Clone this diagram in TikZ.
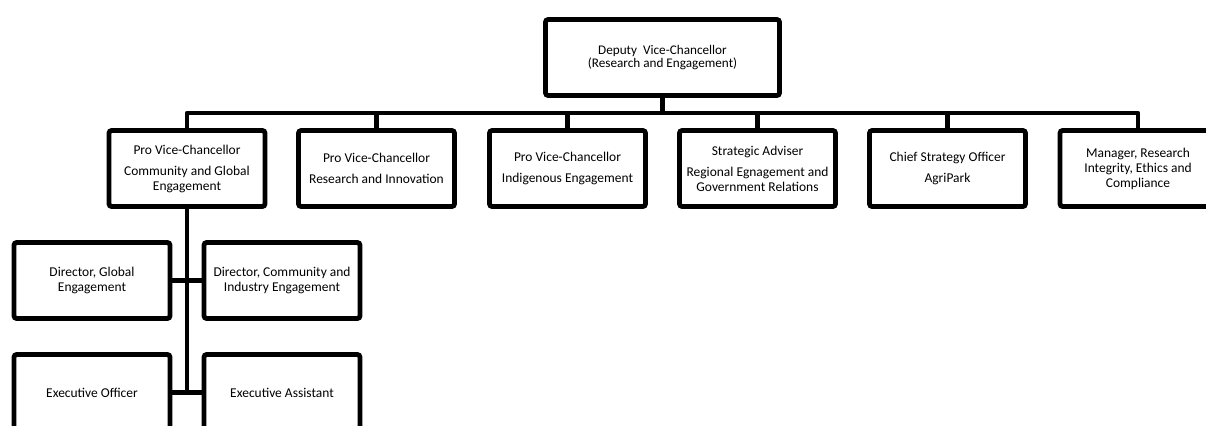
\documentclass[tikz,border=0pt]{standalone}
\usepackage{fontspec}
\setmainfont{Carlito}
\begin{document}
\begin{tikzpicture}[x=0.75pt,y=-0.75pt,
  box/.style={draw=black, line width=3.6pt, rounded corners=2pt, rectangle,
    minimum width=117pt, minimum height=57pt, align=center, inner sep=1pt,
    font=\fontsize{10.1}{11.25}\selectfont},
  topbox/.style={box, minimum width=175.5pt, font=\fontsize{9.9}{9.4}\selectfont},
  conn/.style={line width=3.6pt, line join=round}]
\clip (0,0) rectangle (1206,425);
\useasboundingbox (0,0) rectangle (1206,425);
\node[topbox] (top) at (662.5,57.5) {Deputy\ \ Vice-Chancellor\\(Research and Engagement)};
\node[box] (b1) at (187,168.5) {Pro Vice-Chancellor\\[4.5pt]Community and Global\\Engagement};
\node[box] (b2) at (376.5,168.5) {Pro Vice-Chancellor\\[4.5pt]Research and Innovation};
\node[box] (b3) at (567.5,168.5) {Pro Vice-Chancellor\\[4.5pt]Indigenous Engagement};
\node[box] (b4) at (757.5,168.5) {Strategic Adviser\\[4.5pt]Regional Egnagement and\\Government Relations};
\node[box] (b5) at (947.5,168.5) {Chief Strategy Officer\\[4.5pt]AgriPark};
\node[box] (b6) at (1138,168.5) {Manager, Research\\Integrity, Ethics and\\Compliance};
\node[box] (d1) at (92,280.5) {Director, Global\\Engagement};
\node[box] (d2) at (282,280.5) {Director, Community and\\Industry Engagement};
\node[box] (e1) at (92,392.5) {Executive Officer};
\node[box] (e2) at (282,392.5) {Executive Assistant};
\coordinate (bus) at (0,113);
\draw[conn] (top.south) -- (top.south |- bus);
\draw[conn] (b1.north) -- (b1.north |- bus) -- (b6.north |- bus) -- (b6.north);
\foreach \b in {b2,b3,b4,b5}{\draw[conn] (\b.north) -- (\b.north |- bus);}
\draw[conn] (b1.south) -- (b1.south |- e1.east);
\draw[conn] (d1.east) -- (d2.west);
\draw[conn] (e1.east) -- (e2.west);
\end{tikzpicture}
\end{document}
